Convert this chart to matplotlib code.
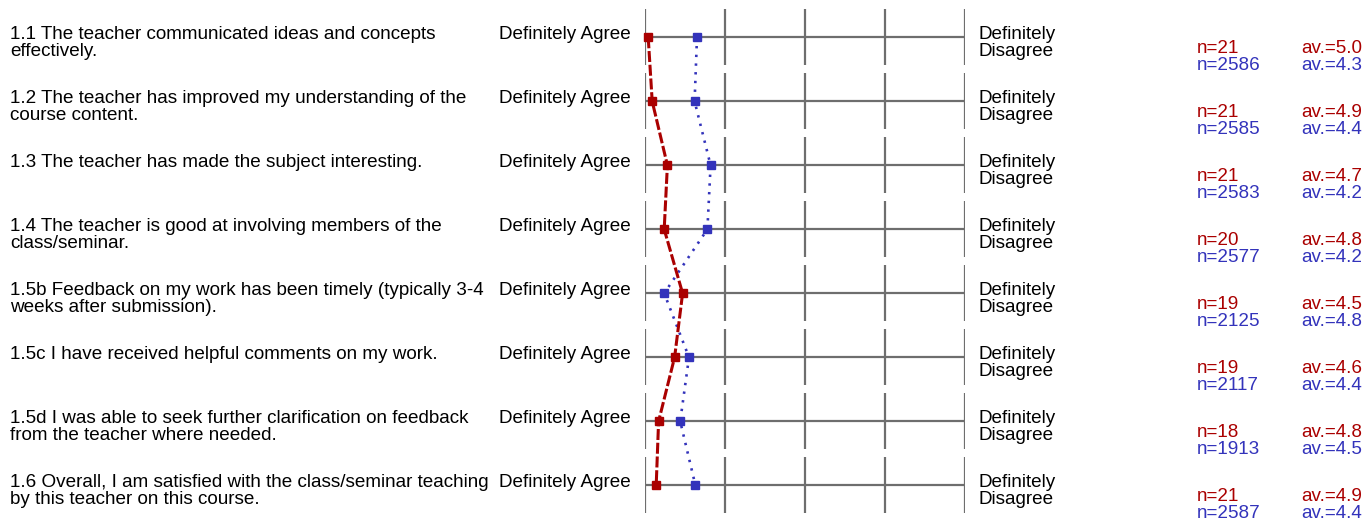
import matplotlib
matplotlib.use("Agg")
import matplotlib.pyplot as plt
from matplotlib.transforms import blended_transform_factory

questions = [
    "1.1 The teacher communicated ideas and concepts\neffectively.",
    "1.2 The teacher has improved my understanding of the\ncourse content.",
    "1.3 The teacher has made the subject interesting.",
    "1.4 The teacher is good at involving members of the\nclass/seminar.",
    "1.5b Feedback on my work has been timely (typically 3-4\nweeks after submission).",
    "1.5c I have received helpful comments on my work.",
    "1.5d I was able to seek further clarification on feedback\nfrom the teacher where needed.",
    "1.6 Overall, I am satisfied with the class/seminar teaching\nby this teacher on this course.",
]
left_label = "Definitely Agree"
right_label = "Definitely\nDisagree"

# plotted means
course_mean = [4.96, 4.91, 4.72, 4.76, 4.53, 4.63, 4.83, 4.86]
all_mean = [4.35, 4.38, 4.18, 4.22, 4.76, 4.45, 4.56, 4.37]
# printed summary
course_n = [21, 21, 21, 20, 19, 19, 18, 21]
course_av = ["5.0", "4.9", "4.7", "4.8", "4.5", "4.6", "4.8", "4.9"]
all_n = [2586, 2585, 2583, 2577, 2125, 2117, 1913, 2587]
all_av = ["4.3", "4.4", "4.2", "4.2", "4.8", "4.4", "4.5", "4.4"]

RED = "#AA0000"
BLUE = "#3333BB"
GRID = "#6e6e6e"

W, H = 1372, 525
fig = plt.figure(figsize=(W / 100, H / 100), dpi=100)
plt.rcParams["font.family"] = ["Liberation Sans", "DejaVu Sans"]

ax = fig.add_axes([645 / W, 0, 320 / W, 1])
rows = list(range(len(questions)))
row0_px, row_step = 37.3, 64.0
ax.set_xlim(5, 1)
ax.set_ylim((H - row0_px) / row_step, -row0_px / row_step)
ax.axis("off")

half = 28 / row_step
for r in rows:
    ax.vlines([1, 2, 3, 4, 5], r - half, r + half, color=GRID, lw=1.6, zorder=1)
    ax.hlines(r, 5, 1, color=GRID, lw=1.6, zorder=1)

ax.plot(all_mean, rows, color=BLUE, lw=1.9, linestyle=(0, (0.9, 2.4)),
        marker="s", ms=6.3, mec=BLUE, mfc=BLUE, zorder=3, clip_on=False)
ax.plot(course_mean, rows, color=RED, lw=2.2, linestyle=(0, (3.6, 0.9)),
        marker="s", ms=6.3, mec=RED, mfc=RED, zorder=4, clip_on=False)

tr = blended_transform_factory(fig.transFigure, ax.transData)
fs = 13.6
u = 1 / row_step
for r in rows:
    lines = questions[r].split("\n")
    for k, ln in enumerate(lines):
        fig.text(10 / W, r + (1.5 + 17.5 * k) * u, ln, transform=tr, fontsize=fs,
                 ha="left", va="baseline", color="black")
    fig.text(631 / W, r + 1.5 * u, left_label, transform=tr, fontsize=fs,
             ha="right", va="baseline", color="black")
    for k, ln in enumerate(right_label.split("\n")):
        fig.text(978 / W, r + (1.5 + 17 * k) * u, ln, transform=tr, fontsize=fs,
                 ha="left", va="baseline", color="black")
    fig.text(1197 / W, r + 16 * u, f"n={course_n[r]}", transform=tr,
             fontsize=fs, ha="left", va="baseline", color=RED)
    fig.text(1301 / W, r + 16 * u, f"av.={course_av[r]}", transform=tr,
             fontsize=fs, ha="left", va="baseline", color=RED)
    fig.text(1197 / W, r + 33 * u, f"n={all_n[r]}", transform=tr,
             fontsize=fs, ha="left", va="baseline", color=BLUE)
    fig.text(1301 / W, r + 33 * u, f"av.={all_av[r]}", transform=tr,
             fontsize=fs, ha="left", va="baseline", color=BLUE)

fig.savefig("out.png", dpi=100)
